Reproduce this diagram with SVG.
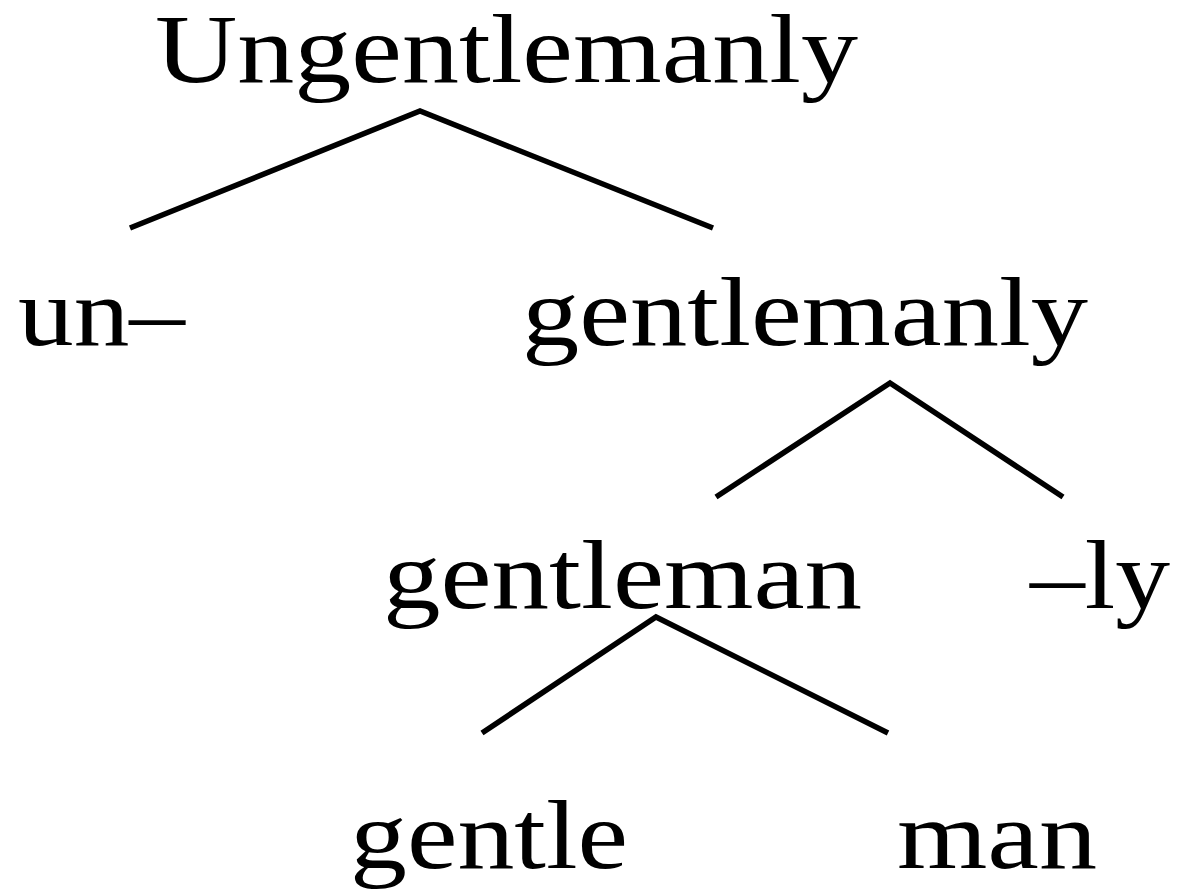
<svg xmlns="http://www.w3.org/2000/svg" width="1186" height="892" viewBox="0 0 1186 892">
<style>
text{font-family:"Liberation Serif","DejaVu Serif",serif;font-size:98px;fill:#000}
.e{stroke:#000;stroke-width:5.5;fill:none;stroke-linecap:butt}
</style>
<rect width="1186" height="892" fill="#fff"/>
<g id="connectors">
<path class="e" d="M130,228 L420,111 L713,228"/>
<path class="e" d="M716,497 L890,383 L1063,497"/>
<path class="e" d="M482,733 L656,617 L888,733"/>
</g>
<g id="n-ungentlemanly"><text x="155" y="82" textLength="703" lengthAdjust="spacingAndGlyphs">Ungentlemanly</text></g>
<g id="n-un"><text x="18" y="345" textLength="167" lengthAdjust="spacingAndGlyphs">un–</text></g>
<g id="n-gentlemanly"><text x="522" y="345" textLength="566" lengthAdjust="spacingAndGlyphs">gentlemanly</text></g>
<g id="n-gentleman"><text x="383" y="608" textLength="479" lengthAdjust="spacingAndGlyphs">gentleman</text></g>
<g id="n-ly"><text x="1030" y="608" textLength="140" lengthAdjust="spacingAndGlyphs">–ly</text></g>
<g id="n-gentle"><text x="350" y="868" textLength="278" lengthAdjust="spacingAndGlyphs">gentle</text></g>
<g id="n-man"><text x="897" y="868" textLength="200" lengthAdjust="spacingAndGlyphs">man</text></g>
</svg>
